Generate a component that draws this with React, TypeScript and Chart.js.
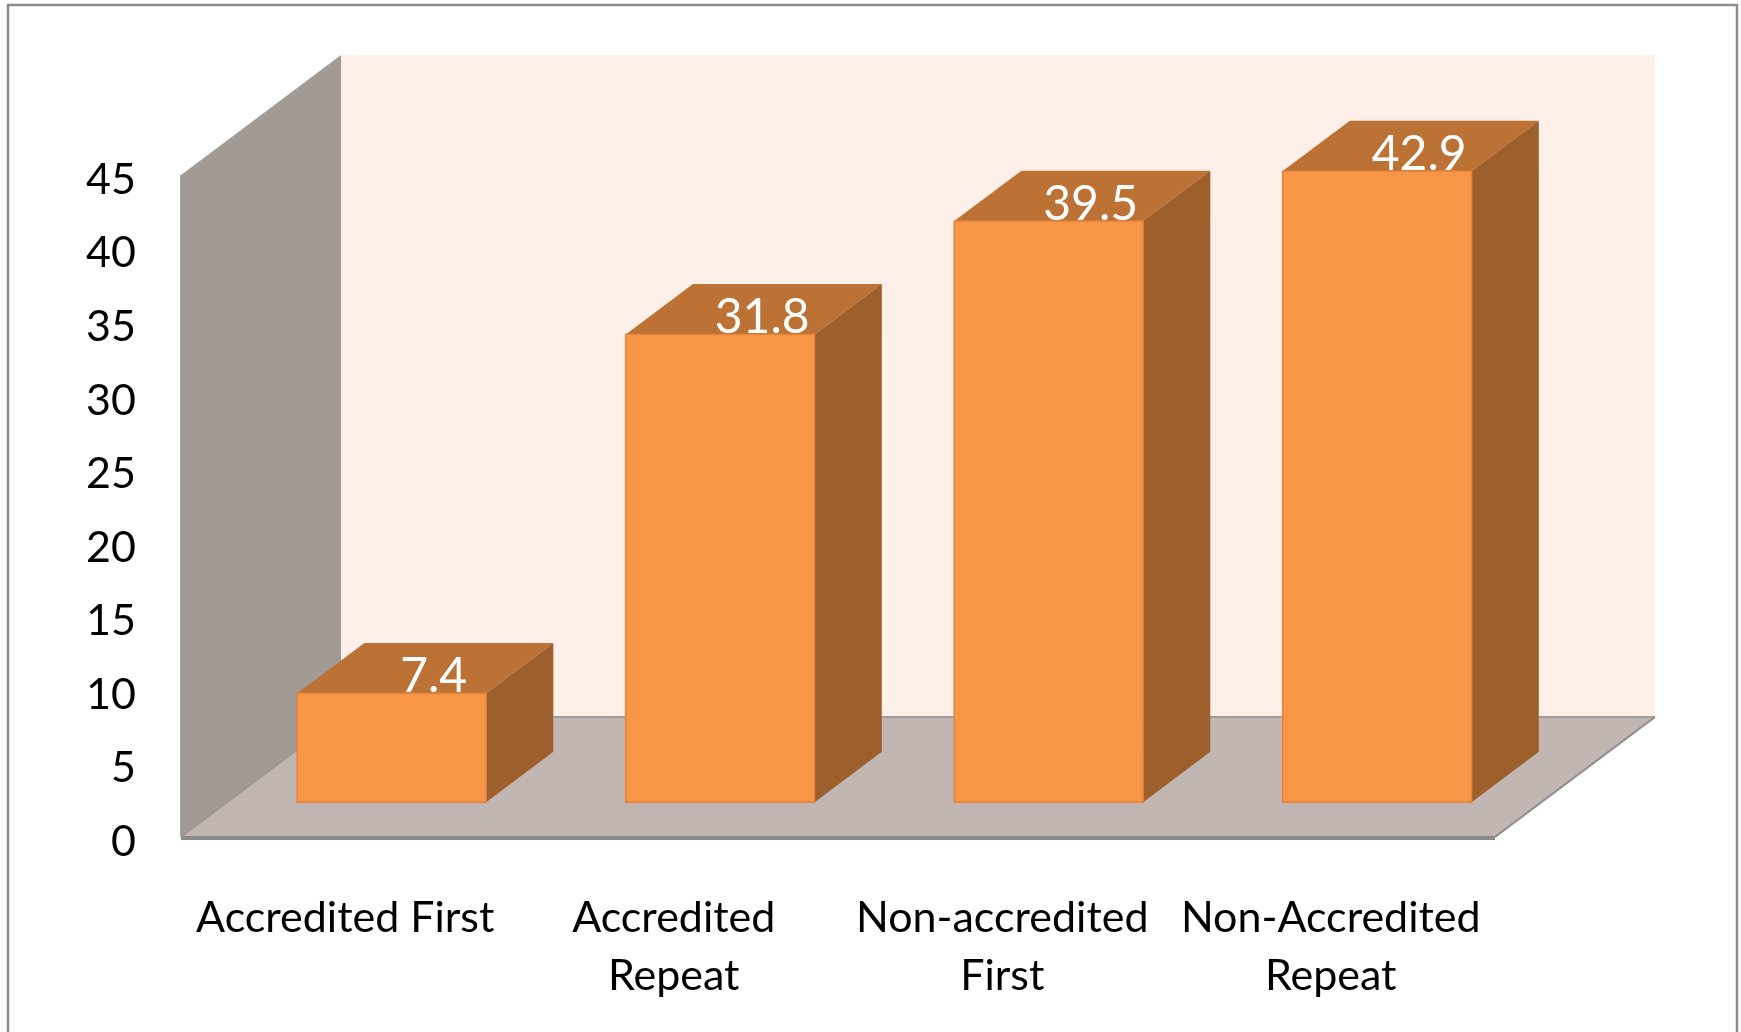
import React, { useEffect, useRef } from 'react';
import { Chart, registerables } from 'chart.js';

Chart.register(...registerables);

// ---- data ----
const categories: (string | string[])[] = [
  'Accredited First',
  ['Accredited', 'Repeat'],
  ['Non-accredited', 'First'],
  ['Non-Accredited', 'Repeat'],
];
const values: number[] = [7.4, 31.8, 39.5, 42.9];
const yMin = 0;
const yMax = 45;
const yStep = 5;

// ---- 3D look (styles) ----
const DEPTH_DX = 160;
const DEPTH_DY = -120;
const BAR_FRONT = 0.29;
const BAR_BACK = 0.71;

const C = {
  backWall: '#FEEFE8',
  sideWall: '#A29A95',
  floor: '#C1B6B2',
  edge: '#8C8C8C',
  barFront: '#F79646',
  barTop: '#BC7234',
  barSide: '#9D5F2B',
  barEdge: '#E3843C',
  frame: '#8C8C8C',
};

const FONT = 'Lato, "Open Sans", sans-serif';

function poly(ctx: CanvasRenderingContext2D, pts: number[][], fill: string) {
  ctx.beginPath();
  ctx.moveTo(pts[0][0], pts[0][1]);
  for (let i = 1; i < pts.length; i++) ctx.lineTo(pts[i][0], pts[i][1]);
  ctx.closePath();
  ctx.fillStyle = fill;
  ctx.fill();
}

function line(ctx: CanvasRenderingContext2D, x1: number, y1: number, x2: number, y2: number, color: string, w: number) {
  ctx.beginPath();
  ctx.moveTo(x1, y1);
  ctx.lineTo(x2, y2);
  ctx.strokeStyle = color;
  ctx.lineWidth = w;
  ctx.stroke();
}

const threeD = {
  id: 'threeD',
  beforeDraw(chart: any) {
    const ctx: CanvasRenderingContext2D = chart.ctx;
    ctx.save();
    ctx.fillStyle = '#FFFFFF';
    ctx.fillRect(0, 0, chart.width, chart.height);
    ctx.strokeStyle = C.frame;
    ctx.lineWidth = 2.5;
    ctx.strokeRect(8, 5, chart.width - 12, chart.height + 20);
    ctx.restore();
  },
  beforeDatasetsDraw(chart: any) {
    const ctx: CanvasRenderingContext2D = chart.ctx;
    const { left, right, top, bottom } = chart.chartArea;
    ctx.save();
    // back wall
    poly(ctx, [
      [left + DEPTH_DX, top + DEPTH_DY],
      [right + DEPTH_DX, top + DEPTH_DY],
      [right + DEPTH_DX, bottom + DEPTH_DY],
      [left + DEPTH_DX, bottom + DEPTH_DY],
    ], C.backWall);
    // side wall
    poly(ctx, [
      [left, top],
      [left + DEPTH_DX, top + DEPTH_DY],
      [left + DEPTH_DX, bottom + DEPTH_DY],
      [left, bottom],
    ], C.sideWall);
    // floor
    poly(ctx, [
      [left, bottom],
      [right, bottom],
      [right + DEPTH_DX, bottom + DEPTH_DY],
      [left + DEPTH_DX, bottom + DEPTH_DY],
    ], C.floor);
    // edges
    line(ctx, left + DEPTH_DX, bottom + DEPTH_DY, right + DEPTH_DX, bottom + DEPTH_DY, '#A09A98', 2);
    line(ctx, right, bottom, right + DEPTH_DX, bottom + DEPTH_DY, C.edge, 2);
    line(ctx, left, bottom, left + DEPTH_DX, bottom + DEPTH_DY, '#9A9390', 1.5);
    line(ctx, left, top, left, bottom, '#979190', 1.5);
    line(ctx, left, bottom + 1, right, bottom + 1, C.edge, 4);
    ctx.restore();
  },
  afterDatasetsDraw(chart: any) {
    const ctx: CanvasRenderingContext2D = chart.ctx;
    const meta = chart.getDatasetMeta(0);
    const fx = BAR_FRONT * DEPTH_DX;
    const fy = BAR_FRONT * DEPTH_DY;
    const dx = (BAR_BACK - BAR_FRONT) * DEPTH_DX;
    const dy = (BAR_BACK - BAR_FRONT) * DEPTH_DY;
    ctx.save();
    meta.data.forEach((bar: any, i: number) => {
      const p = bar.getProps(['x', 'y', 'base', 'width'], true);
      const l = p.x - p.width / 2 + fx;
      const r = p.x + p.width / 2 + fx;
      const t = p.y + fy;
      const b = p.base + fy;
      // top
      poly(ctx, [[l, t], [r, t], [r + dx, t + dy], [l + dx, t + dy]], C.barTop);
      // side
      poly(ctx, [[r, t], [r + dx, t + dy], [r + dx, b + dy], [r, b]], C.barSide);
      // front
      ctx.fillStyle = C.barFront;
      ctx.fillRect(l, t, r - l, b - t);
      ctx.strokeStyle = C.barEdge;
      ctx.lineWidth = 1.5;
      ctx.strokeRect(l, t, r - l, b - t);
      // label
      ctx.fillStyle = '#FFFFFF';
      ctx.font = `48px ${FONT}`;
      ctx.textAlign = 'center';
      ctx.textBaseline = 'alphabetic';
      ctx.fillText(String(values[i]), p.x + fx + 42, t - 1);
    });
    ctx.restore();
  },
};

export default function App() {
  const ref = useRef<HTMLCanvasElement | null>(null);
  useEffect(() => {
    if (!ref.current) return;
    const chart = new Chart(ref.current, {
      type: 'bar',
      data: {
        labels: categories,
        datasets: [
          {
            data: values,
            backgroundColor: 'rgba(0,0,0,0)',
            borderWidth: 0,
            barPercentage: 0.575,
            categoryPercentage: 1,
          },
        ],
      },
      options: {
        animation: false,
        responsive: false,
        events: [],
        layout: { padding: { left: 0, right: 246, top: 175, bottom: 0 } },
        plugins: { legend: { display: false }, tooltip: { enabled: false }, title: { display: false } },
        scales: {
          x: {
            offset: true,
            grid: { display: false, drawTicks: false },
            border: { display: false },
            ticks: {
              autoSkip: false,
              maxRotation: 0,
              minRotation: 0,
              padding: 52,
              color: '#000000',
              font: { family: FONT, size: 43, lineHeight: 1.35 },
            },
            afterFit: (s: any) => { s.height = 195; },
          },
          y: {
            min: yMin,
            max: yMax,
            grid: { display: false, drawTicks: false },
            border: { display: false },
            ticks: {
              stepSize: yStep,
              padding: 45,
              labelOffset: 5,
              color: '#000000',
              font: { family: FONT, size: 43 },
            },
            afterFit: (s: any) => { s.width = 181; },
          },
        },
      },
      plugins: [threeD],
    });
    return () => chart.destroy();
  }, []);
  return (
    <div style={{ position: 'fixed', left: 0, top: 0, width: 1741, height: 1032, background: '#fff' }}>
      <canvas ref={ref} width={1741} height={1032} style={{ width: 1741, height: 1032, display: 'block' }} />
    </div>
  );
}
